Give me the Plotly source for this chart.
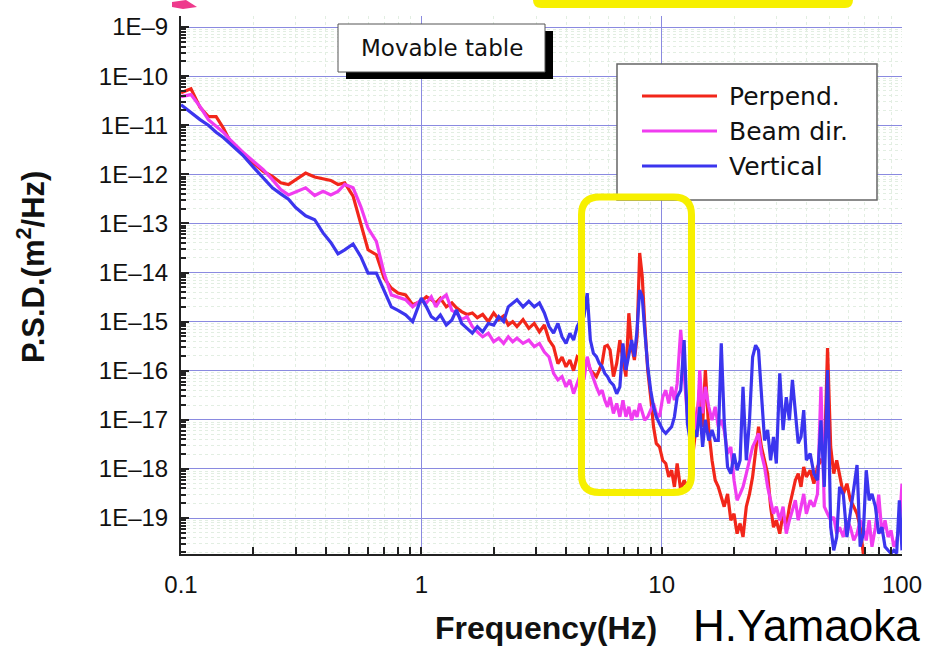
import plotly.graph_objects as go

# ---------------- data ----------------
freq = [
    0.10, 0.11, 0.12, 0.13, 0.14, 0.15, 0.16, 0.17, 0.18, 0.20,
    0.22, 0.24, 0.26, 0.28, 0.30, 0.33, 0.36, 0.39, 0.42, 0.45,
    0.48, 0.52, 0.56, 0.60, 0.65, 0.70, 0.75, 0.80, 0.86, 0.92,
    1.0, 1.05, 1.1, 1.15, 1.2, 1.27, 1.34, 1.4, 1.47, 1.55,
    1.63, 1.71, 1.8, 1.9, 2.0, 2.1, 2.2, 2.3, 2.4, 2.5,
    2.65, 2.8, 2.95, 3.1, 3.25, 3.4, 3.55, 3.7, 3.85, 4.0,
    4.15, 4.3, 4.45, 4.6, 4.75,
    4.9, 5.05, 5.2, 5.35, 5.5, 5.65, 5.8, 5.95, 6.1, 6.3,
    6.5, 6.7, 6.9, 7.1, 7.3, 7.5, 7.7, 7.9, 8.1, 8.3,
    8.5, 8.75, 9.0, 9.25, 9.5, 9.8, 10.1, 10.4, 10.7, 11.0,
    11.3, 11.6, 12.0, 12.4, 12.8, 13.2,
    13.6, 14.0, 14.4, 14.8, 15.2, 15.7, 16.2, 16.7, 17.2, 17.7,
    18.2, 18.8, 19.4, 20.0, 20.6, 21.2, 21.8, 22.5, 23.2, 23.9,
    24.6, 25.3, 26.0, 26.8, 27.6, 28.4, 29.2, 30, 31, 32,
    33, 34, 35, 36, 37, 38, 39, 40, 41.5, 43,
    44.5, 46, 47.5, 49, 50.5, 52, 53.5, 55, 57, 59,
    61, 63, 65, 67, 69, 71, 73, 75, 77.5, 80,
    82.5, 85, 87.5, 90, 92.5, 95, 97.5, 100,
]

perpend = [
    4.6e-11, 5.5e-11, 2.3e-11, 1.5e-11, 1.5e-11, 8.8e-12, 4.7e-12, 3.4e-12, 2.6e-12, 1.7e-12,
    1.15e-12, 9.1e-13, 6.7e-13, 6.2e-13, 7.8e-13, 1.06e-12, 8.8e-13, 8.0e-13, 7.5e-13, 6.2e-13,
    6.7e-13, 3.6e-13, 1.0e-13, 2.9e-14, 2.3e-14, 7.7e-15, 4.8e-15, 3.8e-15, 3.5e-15, 2.2e-15,
    2.6e-15, 3.2e-15, 2.8e-15, 2.4e-15, 3.0e-15, 2.0e-15, 2.4e-15, 1.9e-15, 1.6e-15, 1.4e-15,
    1.5e-15, 1.2e-15, 1.4e-15, 1.0e-15, 1.5e-15, 1.1e-15, 1.3e-15, 8.5e-16, 1.0e-15, 7.9e-16,
    1.1e-15, 7.3e-16, 9.2e-16, 6.2e-16, 8.5e-16, 4.2e-16, 3.1e-16, 1.4e-16, 1.9e-16, 1.2e-16,
    1.65e-16, 1.0e-16, 1.9e-16, 1.65e-16, 1.2e-16,
    1.65e-16, 1.03e-16, 8.8e-17, 7.6e-17, 1.03e-16, 1.41e-16, 3.1e-16, 3.3e-16, 2.64e-16, 7.6e-17,
    1.41e-16, 4.2e-16, 1.65e-16, 7.6e-17, 1.48e-15, 3.1e-16, 1.65e-16, 4.9e-16, 2.5e-14, 8.3e-15,
    9.2e-16, 1.03e-16, 2.9e-17, 7.2e-18, 3.3e-18, 2.8e-18, 1.5e-18, 1.29e-18, 6.9e-19, 9.4e-19,
    4.3e-19, 1.29e-18, 3.7e-19, 5.9e-19, 4.3e-19, 6.9e-19,
    2.8e-18, 9.8e-18, 4.7e-17, 7.2e-18, 1.03e-16, 6.2e-18, 1.5e-18, 5.9e-19, 4.3e-19, 2.7e-19,
    1.7e-19, 3.1e-19, 9.0e-20, 1.22e-19, 4.8e-20, 7.7e-20, 4.1e-20, 1.7e-19, 3.1e-19, 6.9e-19,
    2.06e-18, 7.2e-18, 2.8e-18, 1.5e-18, 8.0e-19, 1.7e-19, 6.5e-20, 9.0e-20, 4.8e-20, 1.22e-19,
    6.5e-20, 1.7e-19, 3.1e-19, 5.9e-19, 8.0e-19, 4.3e-19, 1.1e-18, 6.9e-19, 9.4e-19, 5.0e-19,
    1.1e-18, 1.5e-18, 1.29e-18, 2.9e-16, 2.8e-18, 8.0e-19, 1.5e-18, 6.9e-19, 3.1e-19, 5.0e-19,
    2.3e-19, 1.7e-19, 1.22e-19, 6.5e-20, 1.9e-20, 1.0e-20, 1.0e-20, 1.0e-20, 1.0e-20, 1.0e-20,
    1.0e-20, 1.0e-20, 1.0e-20, 1.0e-20, 1.0e-20, 1.0e-20, 1.0e-20, 1.0e-20,
]

beam_dir = [
    3.8e-11, 4.2e-11, 2.4e-11, 1.3e-11, 9.5e-12, 7.2e-12, 5.1e-12, 3.8e-12, 2.9e-12, 1.84e-12,
    1.24e-12, 7.8e-13, 4.9e-13, 3.8e-13, 4.4e-13, 5.3e-13, 3.7e-13, 4.5e-13, 3.8e-13, 4.5e-13,
    6.2e-13, 5.3e-13, 2.2e-13, 8.0e-14, 4.3e-14, 9.7e-15, 3.5e-15, 3.2e-15, 2.8e-15, 2.0e-15,
    2.8e-15, 2.4e-15, 3.2e-15, 2.0e-15, 2.8e-15, 3.5e-15, 1.7e-15, 1.5e-15, 1.1e-15, 1.26e-15,
    7.9e-16, 6.2e-16, 4.9e-16, 5.8e-16, 3.9e-16, 4.6e-16, 3.6e-16, 4.9e-16, 3.9e-16, 4.6e-16,
    3.6e-16, 4.2e-16, 3.1e-16, 3.6e-16, 2.4e-16, 1.9e-16, 8.8e-17, 6.5e-17, 7.6e-17, 4.7e-17,
    6.5e-17, 3.4e-17, 5.5e-17, 8.8e-17, 6.5e-17,
    1.93e-16, 1.03e-16, 6.5e-17, 4.7e-17, 3.4e-17, 4.0e-17, 2.5e-17, 1.84e-17, 2.9e-17, 1.35e-17,
    2.15e-17, 1.15e-17, 2.5e-17, 1.15e-17, 1.84e-17, 9.8e-18, 1.57e-17, 1.15e-17, 2.15e-17, 1.35e-17,
    9.8e-18, 1.15e-17, 1.57e-17, 2.15e-17, 1.35e-17, 1.15e-17, 2.9e-17, 4.0e-17, 2.15e-17, 4.7e-17,
    2.5e-17, 5.5e-17, 6.8e-16, 1.03e-16, 1.15e-17, 6.2e-18,
    1.84e-17, 4.5e-18, 1.03e-16, 1.35e-17, 4.7e-17, 1.84e-17, 9.8e-18, 1.84e-17, 7.2e-18, 9.8e-18,
    6.2e-18, 2.06e-18, 2.8e-18, 5.9e-19, 2.3e-19, 3.1e-19, 4.3e-19, 8.0e-19, 1.5e-18, 2.8e-18,
    3.8e-18, 5.3e-18, 2.06e-18, 1.1e-18, 4.3e-19, 2.3e-19, 1.22e-19, 1.7e-19, 9.0e-20, 1.7e-19,
    4.8e-20, 9.0e-20, 1.43e-19, 2.3e-19, 9.0e-20, 1.7e-19, 3.1e-19, 1.22e-19, 2.3e-19, 1.7e-19,
    3.1e-19, 4.7e-17, 1.7e-19, 1.22e-19, 9.0e-20, 1.05e-19, 4.8e-20, 6.5e-20, 4.1e-20, 9.0e-20,
    6.5e-20, 3.5e-20, 4.8e-20, 9.0e-20, 6.5e-20, 3.5e-20, 9.0e-20, 2.6e-20, 6.5e-20, 3.0e-19,
    4.8e-20, 9.0e-20, 4.1e-20, 5.6e-20, 2.6e-20, 3.5e-20, 6.5e-20, 5.0e-19,
]

vertical = [
    2.6e-11, 1.8e-11, 1.3e-11, 1.0e-11, 7.2e-12, 5.6e-12, 4.2e-12, 3.3e-12, 2.5e-12, 1.4e-12,
    8.4e-13, 5.3e-13, 4.0e-13, 3.1e-13, 2.1e-13, 1.43e-13, 1.19e-13, 6.4e-14, 4.1e-14, 2.4e-14,
    2.9e-14, 3.8e-14, 2.1e-14, 9.7e-15, 9.7e-15, 4.1e-15, 2.0e-15, 1.7e-15, 1.37e-15, 1.0e-15,
    3.0e-15, 2.0e-15, 1.26e-15, 1.08e-15, 1.37e-15, 8.5e-16, 1.08e-15, 1.73e-15, 9.2e-16, 7.3e-16,
    5.8e-16, 7.9e-16, 6.2e-16, 9.2e-16, 8.5e-16, 1.26e-15, 1.0e-15, 2.0e-15, 2.4e-15, 2.8e-15,
    2.0e-15, 2.6e-15, 2.0e-15, 2.4e-15, 1.5e-15, 7.9e-16, 5.8e-16, 9.2e-16, 4.9e-16, 3.6e-16,
    5.8e-16, 4.2e-16, 7.9e-16, 1.08e-15, 1.26e-15,
    3.8e-15, 4.2e-16, 2.26e-16, 1.93e-16, 1.41e-16, 1.21e-16, 8.8e-17, 7.6e-17, 6.0e-17, 5.1e-17,
    3.4e-17, 4.7e-17, 3.6e-16, 1.03e-16, 1.93e-16, 4.2e-16, 1.93e-16, 6.8e-16, 4.4e-15, 3.2e-15,
    6.8e-16, 1.21e-16, 4.0e-17, 1.84e-17, 1.15e-17, 8.4e-18, 6.2e-18, 5.3e-18, 6.2e-18, 7.2e-18,
    1.15e-17, 2.9e-17, 4.0e-17, 4.2e-16, 8.4e-18, 3.3e-18,
    6.2e-18, 4.5e-18, 1.84e-17, 2.8e-18, 9.8e-18, 3.8e-18, 6.2e-18, 3.8e-18, 3.8e-18, 3.6e-16,
    9.8e-18, 1.1e-18, 8.0e-19, 2.06e-18, 9.4e-19, 1.5e-18, 4.7e-17, 1.5e-18, 9.8e-18, 1.9e-16,
    3.3e-16, 2.6e-16, 3.4e-17, 3.8e-18, 6.2e-18, 1.5e-18, 4.5e-18, 1.29e-18, 8.8e-17, 6.2e-18,
    2.9e-17, 9.8e-18, 6.5e-17, 1.35e-17, 3.3e-18, 4.5e-18, 1.57e-17, 1.5e-18, 2.06e-18, 8.0e-19,
    5.9e-19, 9.8e-18, 4.3e-19, 1.03e-16, 6.5e-20, 2.2e-20, 4.1e-20, 4.3e-19, 3.0e-19, 4.1e-20,
    1.5e-19, 4.0e-19, 1.2e-18, 2.6e-20, 4.8e-20, 9.4e-19, 2.3e-19, 3.1e-19, 1.7e-19, 4.8e-20,
    6.5e-20, 2.6e-20, 2.2e-20, 1.9e-20, 2.2e-20, 1.9e-20, 2.3e-19, 2.2e-20,
]

series_names = ["Perpend.", "Beam dir.", "Vertical"]
series_colors = ["#f2261a", "#f03cf0", "#3b35ee"]

x_ticks = [0.1, 1, 10, 100]
x_ticklabels = ["0.1", "1", "10", "100"]
y_ticks = [1e-9, 1e-10, 1e-11, 1e-12, 1e-13, 1e-14, 1e-15, 1e-16, 1e-17, 1e-18, 1e-19]
y_ticklabels = ["1E–9", "1E–10", "1E–11", "1E–12", "1E–13", "1E–14",
                "1E–15", "1E–16", "1E–17", "1E–18", "1E–19"]

box_label = "Movable table"
x_title = "Frequency(Hz)"
y_title = "P.S.D.(m<sup>2</sup>/Hz)"
author = "H.Yamaoka"

# ---------------- figure ----------------
W, H = 944, 652
L_, R_, T_, B_ = 181, 42, 16, 98
PW, PH = W - L_ - R_, H - T_ - B_


def px(x):
    return (x - L_) / PW


def py(y):
    return (H - B_ - y) / PH


def rounded_path(x0, y0, x1, y1, r):
    pts = [
        ("M", (x0 + r, y0)), ("L", (x1 - r, y0)),
        ("Q", (x1, y0), (x1, y0 + r)), ("L", (x1, y1 - r)),
        ("Q", (x1, y1), (x1 - r, y1)), ("L", (x0 + r, y1)),
        ("Q", (x0, y1), (x0, y1 - r)), ("L", (x0, y0 + r)),
        ("Q", (x0, y0), (x0 + r, y0)),
    ]
    s = ""
    for item in pts:
        cmd = item[0]
        coords = " ".join(f"{px(a):.5f},{py(b):.5f}" for a, b in item[1:])
        s += f"{cmd} {coords} "
    return s + "Z"


fig = go.Figure()
for name, vals, col in zip(series_names, [perpend, beam_dir, vertical], series_colors):
    fig.add_trace(go.Scatter(x=freq, y=vals, mode="lines", name=name,
                             line=dict(color=col, width=3.2), showlegend=False))

x_minor = [m * d for d in (0.1, 1, 10) for m in range(2, 10)]
y_minor = [m * 10.0 ** e for e in range(-20, -8) for m in range(2, 10)]

tickfont = dict(family="Liberation Sans, Arial, sans-serif", size=24, color="#111")

fig.update_xaxes(
    type="log", range=[-1, 2], tickvals=x_ticks, ticktext=x_ticklabels,
    ticks="inside", ticklen=7, tickwidth=1.5, tickcolor="#222",
    showline=True, linecolor="#222", linewidth=2, mirror=False,
    showgrid=True, gridcolor="#8a8ae0", gridwidth=1,
    tickfont=tickfont, ticklabelstandoff=8,
    minor=dict(tickvals=x_minor, ticks="inside", ticklen=7, tickwidth=1.5,
               tickcolor="#222", showgrid=True, gridcolor="#e2eee2",
               griddash="dot", gridwidth=1),
)
fig.update_yaxes(
    type="log", range=[-19.733, -8.776], tickvals=y_ticks, ticktext=y_ticklabels,
    ticks="inside", ticklen=8, tickwidth=2, tickcolor="#222",
    showline=True, linecolor="#222", linewidth=2, mirror=False,
    showgrid=True, gridcolor="#8a8ae0", gridwidth=1,
    tickfont=tickfont, ticklabelstandoff=6,
    minor=dict(tickvals=y_minor, ticks="inside", ticklen=5, tickwidth=1.5,
               tickcolor="#222", showgrid=True, gridcolor="#e2eee2",
               griddash="dot", gridwidth=1),
)

shapes = []
# "Movable table" box with black drop shadow
shapes.append(dict(type="rect", xref="paper", yref="paper", layer="above",
                   x0=px(346), x1=px(553), y0=py(79), y1=py(31),
                   fillcolor="black", line=dict(width=0)))
shapes.append(dict(type="rect", xref="paper", yref="paper", layer="above",
                   x0=px(338), x1=px(545), y0=py(72), y1=py(24),
                   fillcolor="white", line=dict(color="#555", width=1)))
# legend box
shapes.append(dict(type="rect", xref="paper", yref="paper", layer="above",
                   x0=px(617), x1=px(877), y0=py(200), y1=py(64),
                   fillcolor="white", line=dict(color="#666", width=1.5)))
legend_y = [96, 131, 166]
annotations = []
for name, col, ly in zip(series_names, series_colors, legend_y):
    shapes.append(dict(type="line", xref="paper", yref="paper", layer="above",
                       x0=px(642), x1=px(717), y0=py(ly), y1=py(ly),
                       line=dict(color=col, width=3)))
    annotations.append(dict(xref="paper", yref="paper", x=px(727), y=py(ly),
                            xanchor="left", yanchor="middle", showarrow=False,
                            text=name, font=dict(family="DejaVu Sans", size=25, color="#111")))
# yellow highlight frame
shapes.append(dict(type="path", xref="paper", yref="paper", layer="above",
                   path=rounded_path(581.5, 197, 691.5, 492.5, 18),
                   line=dict(color="#f7f000", width=7)))
# yellow bar cut at the top edge
shapes.append(dict(type="path", xref="paper", yref="paper", layer="above",
                   path=rounded_path(533, -20, 853, 8, 8),
                   fillcolor="#f7f000", line=dict(width=0)))
# pink arrow fragment at the top-left
arrow_pts = [(172, 2), (186, 0), (197, 7), (183, 9), (172, 7)]
arrow_path = "M " + " L ".join(f"{px(a):.5f},{py(b):.5f}" for a, b in arrow_pts) + " Z"
shapes.append(dict(type="path", xref="paper", yref="paper", layer="above",
                   path=arrow_path, fillcolor="#ee3a8c", line=dict(width=0)))

annotations.append(dict(xref="paper", yref="paper", x=px(441.5), y=py(48),
                        xanchor="center", yanchor="middle", showarrow=False,
                        text=box_label, font=dict(family="DejaVu Sans", size=23, color="#111")))
annotations.append(dict(xref="paper", yref="paper", x=px(31), y=py(267),
                        xanchor="center", yanchor="middle", showarrow=False, textangle=-90,
                        text=f"<b>{y_title}</b>",
                        font=dict(family="Liberation Sans, Arial, sans-serif", size=31, color="#111")))
annotations.append(dict(xref="paper", yref="paper", x=px(546), y=py(628),
                        xanchor="center", yanchor="middle", showarrow=False,
                        text=f"<b>{x_title}</b>",
                        font=dict(family="Liberation Sans, Arial, sans-serif", size=32, color="#111")))
annotations.append(dict(xref="paper", yref="paper", x=px(806), y=py(625),
                        xanchor="center", yanchor="middle", showarrow=False,
                        text=author,
                        font=dict(family="Liberation Sans, Arial, sans-serif", size=44, color="black")))

fig.update_layout(
    width=W, height=H, margin=dict(l=L_, r=R_, t=T_, b=B_),
    paper_bgcolor="white", plot_bgcolor="white",
    shapes=shapes, annotations=annotations, showlegend=False,
)

fig.write_html("out.html")
